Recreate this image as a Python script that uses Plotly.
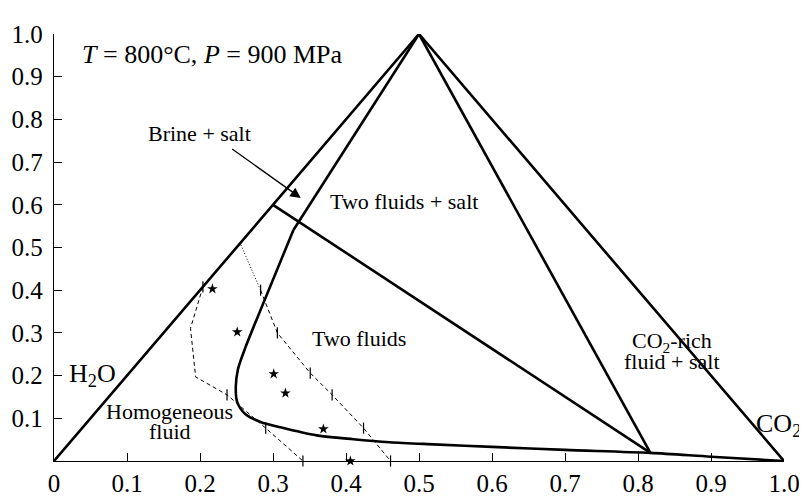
import plotly.graph_objects as go

# ---- data ----
tri_x = [0.0, 0.5, 1.0]
tri_y = [0.0, 1.0, 0.0]

salt_line_x = [0.5, 0.817]
salt_line_y = [1.0, 0.019]

tie_x = [0.30, 0.817]
tie_y = [0.60, 0.019]

brine_line_x = [0.5, 0.328]
brine_line_y = [1.0, 0.541]

solvus_x = [0.328, 0.288, 0.262, 0.252, 0.249, 0.251, 0.262, 0.282, 0.310, 0.360, 0.410,
            0.460, 0.520, 0.600, 0.700, 0.817, 0.900, 1.000]
solvus_y = [0.541, 0.375, 0.265, 0.215, 0.173, 0.138, 0.110, 0.092, 0.079, 0.060, 0.051,
            0.044, 0.039, 0.033, 0.026, 0.019, 0.010, 0.000]

left_dash_x = [0.204, 0.187, 0.194, 0.237, 0.290, 0.341]
left_dash_y = [0.408, 0.311, 0.197, 0.155, 0.077, 0.000]
left_tick_x = [0.204, 0.237, 0.290, 0.341]
left_tick_y = [0.408, 0.155, 0.077, 0.000]

right_dot_x = [0.256, 0.283]
right_dot_y = [0.506, 0.400]
right_dash_x = [0.283, 0.306, 0.351, 0.381, 0.424, 0.461]
right_dash_y = [0.400, 0.300, 0.206, 0.155, 0.077, 0.000]
right_tick_x = [0.283, 0.306, 0.351, 0.381, 0.424, 0.461]
right_tick_y = [0.400, 0.300, 0.206, 0.155, 0.077, 0.000]

star_x = [0.217, 0.251, 0.301, 0.317, 0.369, 0.406]
star_y = [0.403, 0.302, 0.204, 0.159, 0.075, 0.000]

x_tickvals = [0, 0.1, 0.2, 0.3, 0.4, 0.5, 0.6, 0.7, 0.8, 0.9, 1.0]
x_ticktext = ["0", "0.1", "0.2", "0.3", "0.4", "0.5", "0.6", "0.7", "0.8", "0.9", "1.0"]
y_tickvals = [0.1, 0.2, 0.3, 0.4, 0.5, 0.6, 0.7, 0.8, 0.9, 1.0]
y_ticktext = ["0.1", "0.2", "0.3", "0.4", "0.5", "0.6", "0.7", "0.8", "0.9", "1.0"]

FONT = "Liberation Serif"
thick = dict(color="black", width=2.6)

fig = go.Figure()
fig.add_trace(go.Scatter(x=tri_x, y=tri_y, mode="lines", line=thick, cliponaxis=False))
fig.add_trace(go.Scatter(x=salt_line_x, y=salt_line_y, mode="lines", line=thick, cliponaxis=False))
fig.add_trace(go.Scatter(x=tie_x, y=tie_y, mode="lines", line=thick, cliponaxis=False))
fig.add_trace(go.Scatter(x=brine_line_x, y=brine_line_y, mode="lines", line=thick, cliponaxis=False))
fig.add_trace(go.Scatter(x=solvus_x, y=solvus_y, mode="lines",
                         line=dict(color="black", width=2.6, shape="spline", smoothing=0.8),
                         cliponaxis=False))
fig.add_trace(go.Scatter(x=left_dash_x, y=left_dash_y, mode="lines",
                         line=dict(color="black", width=1, dash="4px,3px"), cliponaxis=False))
fig.add_trace(go.Scatter(x=right_dot_x, y=right_dot_y, mode="lines",
                         line=dict(color="black", width=1, dash="1px,2px"), cliponaxis=False))
fig.add_trace(go.Scatter(x=right_dash_x, y=right_dash_y, mode="lines",
                         line=dict(color="black", width=1, dash="4px,3px"), cliponaxis=False))
fig.add_trace(go.Scatter(x=left_tick_x + right_tick_x, y=left_tick_y + right_tick_y, mode="markers",
                         marker=dict(symbol="line-ns", size=8, line=dict(color="black", width=1.2)),
                         cliponaxis=False))
fig.add_trace(go.Scatter(x=star_x, y=star_y, mode="markers",
                         marker=dict(symbol="star", size=8, color="black"),
                         cliponaxis=False))

big = dict(family=FONT, size=26, color="black")
small = dict(family=FONT, size=22, color="black")

ann = [
    dict(x=0.5, y=1.045, text="NaCl", font=big, xanchor="center", yanchor="middle"),
    dict(x=0.036, y=0.951, text="<i>T</i> = 800°C, <i>P</i> = 900 MPa", font=big,
         xanchor="left", yanchor="middle"),
    dict(x=0.199, y=0.768, text="Brine + salt", font=small, xanchor="center", yanchor="middle"),
    dict(x=0.375, y=0.607, text="Two fluids + salt", font=small, xanchor="left", yanchor="middle"),
    dict(x=0.351, y=0.288, text="Two fluids", font=small, xanchor="left", yanchor="middle"),
    dict(x=0.847, y=0.279, text="CO<sub>2</sub>-rich", font=small, xanchor="center", yanchor="middle"),
    dict(x=0.847, y=0.232, text="fluid + salt", font=small, xanchor="center", yanchor="middle"),
    dict(x=0.053, y=0.201, text="H<sub>2</sub>O", font=big, xanchor="center", yanchor="middle"),
    dict(x=0.158, y=0.115, text="Homogeneous", font=small, xanchor="center", yanchor="middle"),
    dict(x=0.159, y=0.068, text="fluid", font=small, xanchor="center", yanchor="middle"),
    dict(x=0.993, y=0.084, text="CO<sub>2</sub>", font=big, xanchor="center", yanchor="middle"),
    dict(x=0.338, y=0.616, ax=0.242, ay=0.733, axref="x", ayref="y", xref="x", yref="y",
         text="", showarrow=True, arrowhead=2, arrowsize=1.6, arrowwidth=1.3, arrowcolor="black"),
]
for a in ann:
    a.setdefault("showarrow", False)
    a.setdefault("xref", "x")
    a.setdefault("yref", "y")

# page body has an 8px margin, so the figure is shifted by (8, 8)
fig.update_layout(
    width=799, height=488,
    margin=dict(l=46, r=23, t=26, b=35, autoexpand=False),
    paper_bgcolor="white", plot_bgcolor="white",
    showlegend=False,
    annotations=ann,
    font=dict(family=FONT, color="black"),
)
fig.update_xaxes(range=[0, 1], tickvals=x_tickvals, ticktext=x_ticktext, automargin=False,
                 showgrid=False, zeroline=False, showline=True, linecolor="black", linewidth=1.3,
                 ticks="inside", ticklen=8, tickwidth=1.2, tickcolor="black",
                 tickfont=dict(family=FONT, size=25, color="black"), ticklabelstandoff=0)
fig.update_yaxes(range=[0, 1], tickvals=y_tickvals, ticktext=y_ticktext, automargin=False,
                 showgrid=False, zeroline=False, showline=True, linecolor="black", linewidth=1.3,
                 ticks="inside", ticklen=8, tickwidth=1.2, tickcolor="black",
                 tickfont=dict(family=FONT, size=25, color="black"), ticklabelstandoff=5)

fig.write_html("out.html")
